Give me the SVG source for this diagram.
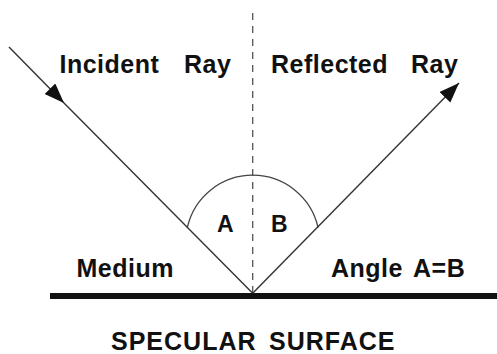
<svg xmlns="http://www.w3.org/2000/svg" width="497" height="354" viewBox="0 0 497 354">
  <style>
    .lbl { font-family: "Liberation Sans", Arial, Helvetica, sans-serif; font-weight: bold; fill: #111; }
    .big { font-size: 25px; letter-spacing: 0.5px; }
    .ang { font-size: 23px; }
    .cap { font-size: 25px; letter-spacing: 1px; }
    .ray { fill: none; stroke: #333; stroke-width: 1.4; }
    .thin { fill: none; stroke: #444; stroke-width: 1.3; }
  </style>
  <defs>
    <marker id="arrow" markerUnits="userSpaceOnUse" markerWidth="21" markerHeight="16" refX="20" refY="7.5" orient="auto">
      <path d="M0,0 L20,7.5 L0,15 Z" fill="#111"/>
    </marker>
  </defs>
  <rect width="497" height="354" fill="#fff"/>

  <g id="surface">
    <line x1="50" y1="296" x2="497" y2="296" stroke="#111" stroke-width="6"/>
  </g>

  <g id="normal">
    <line x1="252.7" y1="13" x2="252.7" y2="293" stroke="#555" stroke-width="1.3" stroke-dasharray="7 6"/>
  </g>

  <g id="angle-arc">
    <path class="thin" d="M187.3,227.6 A67,67 0 0 1 318.1,227.6"/>
  </g>

  <g id="connectors">
    <polyline id="incident-ray" class="ray" points="9,47 64,103 252.7,293.3" marker-mid="url(#arrow)"/>
    <line id="reflected-ray" class="ray" x1="252.7" y1="293.3" x2="459" y2="83" marker-end="url(#arrow)"/>
  </g>

  <g id="labels">
    <text class="lbl big" x="59.5" y="73.3">Incident <tspan x="184">Ray</tspan></text>
    <text class="lbl big" x="271" y="73">Reflected <tspan x="411">Ray</tspan></text>
    <text class="lbl ang" x="217" y="232">A</text>
    <text class="lbl ang" x="271" y="232">B</text>
    <text class="lbl big" x="76.5" y="277">Medium</text>
    <text class="lbl big" x="331" y="277">Angle <tspan x="413">A=B</tspan></text>
    <text class="lbl cap" x="111" y="350">SPECULAR <tspan x="269">SURFACE</tspan></text>
  </g>
</svg>
